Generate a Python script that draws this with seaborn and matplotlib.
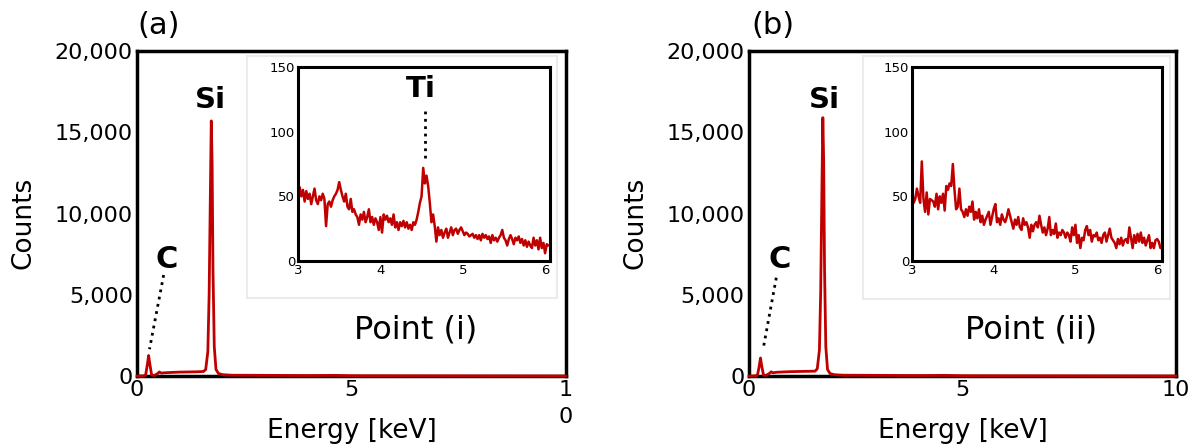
import numpy as np
import pandas as pd
import matplotlib
matplotlib.use('Agg')
import matplotlib.pyplot as plt
import seaborn as sns

# main EDS spectra (energy in keV, counts)
main_energy = [0.0, 0.15, 0.2, 0.24, 0.27, 0.3, 0.34, 0.4, 0.48, 0.52, 0.56, 0.65, 0.8, 1.0,
               1.2, 1.4, 1.55, 1.6, 1.65, 1.68, 1.71, 1.73, 1.75, 1.77, 1.8, 1.84, 1.9, 2.0,
               2.2, 3.0, 4.0, 4.6, 5.0, 6.0, 8.0, 10.0]
counts_a = [0, 10, 60, 700, 1260, 700, 60, 30, 150, 250, 180, 200, 220, 240,
            250, 260, 280, 400, 1500, 5000, 11500, 15700, 13000, 6500, 1800, 400, 150, 80,
            50, 40, 30, 40, 20, 15, 10, 5]
counts_b = [0, 10, 60, 600, 1110, 600, 60, 40, 160, 260, 200, 230, 250, 270,
            280, 290, 300, 450, 1600, 5200, 11800, 15900, 13200, 6600, 1800, 400, 150, 80,
            50, 40, 30, 40, 20, 15, 10, 5]

# zoomed region 3-6 keV, 0.02 keV channels
inset_energy = np.round(np.arange(3.0, 6.05, 0.02), 2)
inset_a = [48, 57, 50, 55, 46, 54, 48, 52, 44, 50,
           56, 47, 44, 50, 47, 52, 48, 27, 44, 46,
           42, 47, 50, 52, 55, 61, 55, 50, 46, 52,
           42, 40, 48, 38, 40, 36, 34, 28, 36, 32,
           38, 30, 34, 40, 30, 34, 28, 33, 30, 24,
           34, 22, 36, 32, 35, 30, 33, 28, 36, 26,
           30, 24, 30, 27, 31, 26, 30, 25, 28, 24,
           30, 28, 32, 38, 45, 50, 72, 60, 66, 58,
           45, 30, 36, 27, 15, 26, 20, 24, 18, 22,
           25, 18, 22, 26, 20, 24, 25, 21, 24, 26,
           23, 20, 22, 21, 19, 20, 21, 18, 20, 17,
           20, 16, 21, 18, 20, 17, 19, 14, 20, 16,
           18, 15, 18, 20, 24, 18, 16, 12, 17, 20,
           17, 13, 18, 16, 19, 14, 17, 12, 16, 11,
           15, 12, 10, 18, 12, 16, 9, 18, 10, 14,
           6, 13, 12]
inset_b = [55, 45, 48, 56, 50, 45, 77, 48, 38, 53,
           36, 48, 47, 46, 42, 52, 40, 50, 45, 52,
           39, 58, 55, 60, 58, 75, 55, 40, 42, 56,
           40, 38, 34, 40, 35, 42, 38, 46, 32, 38,
           33, 40, 30, 35, 28, 32, 35, 38, 28, 34,
           40, 44, 30, 33, 28, 36, 32, 30, 34, 40,
           35, 30, 25, 32, 28, 34, 26, 24, 33, 28,
           30, 26, 18, 28, 23, 28, 30, 26, 35, 28,
           22, 26, 20, 25, 34, 20, 24, 21, 29, 18,
           22, 20, 24, 22, 18, 22, 20, 15, 26, 20,
           28, 14, 20, 10, 18, 16, 24, 27, 20, 24,
           15, 20, 19, 22, 16, 18, 14, 20, 22, 15,
           20, 25, 18, 16, 14, 10, 17, 13, 18, 12,
           16, 17, 14, 26, 18, 10, 20, 14, 21, 15,
           22, 14, 18, 12, 16, 20, 10, 14, 10, 16,
           17, 15, 10]

sns.set_style('white')
plt.rcParams['font.family'] = ['DejaVu Sans']
plt.rcParams['text.color'] = 'black'
plt.rcParams['axes.labelcolor'] = 'black'
plt.rcParams['xtick.color'] = 'black'
plt.rcParams['ytick.color'] = 'black'

red = '#c00000'
fig = plt.figure(figsize=(11.97, 4.48), dpi=100)

panels = [
    dict(main=[0.1145, 0.1607, 0.3584, 0.7254], box=[0.2064, 0.3348, 0.259, 0.540],
         inset=[0.249, 0.4174, 0.2105, 0.433], counts=counts_a, zoom=inset_a,
         letter='(a)', letter_x=0.1324, point='Point (i)', point_x=0.3475,
         xticklabels=['0', '5', '1\n0'], si_x=1.71, c_x=0.69, c_line=([0.62, 0.29], [6215, 1650]),
         ti=True),
    dict(main=[0.6257, 0.1607, 0.3567, 0.7254], box=[0.721, 0.3326, 0.2565, 0.5424],
         inset=[0.7619, 0.4174, 0.2089, 0.433], counts=counts_b, zoom=inset_b,
         letter='(b)', letter_x=0.6458, point='Point (ii)', point_x=0.8613,
         xticklabels=['0', '5', '10'], si_x=1.77, c_x=0.73, c_line=([0.64, 0.33], [6050, 1630]),
         ti=False),
]

for p in panels:
    ax = fig.add_axes(p['main'])
    df = pd.DataFrame({'Energy': main_energy, 'Counts': p['counts']})
    sns.lineplot(data=df, x='Energy', y='Counts', ax=ax, color=red, linewidth=2,
                 estimator=None, sort=False, zorder=3, clip_on=False)
    ax.set_xlim(0, 10)
    ax.set_ylim(0, 20000)
    ax.set_xticks([0, 5, 10])
    ax.set_xticklabels(p['xticklabels'])
    for lbl in ax.get_xticklabels():
        lbl.set_linespacing(1.45)
    ax.set_yticks([0, 5000, 10000, 15000, 20000])
    ax.set_yticklabels(['0', '5,000', '10,000', '15,000', '20,000'])
    ax.tick_params(length=0, labelsize=16, pad=3)
    for s in ax.spines.values():
        s.set_linewidth(2.5)
        s.set_color('black')
    ax.set_xlabel('Energy [keV]', fontsize=19)
    ax.set_ylabel('Counts', fontsize=19)
    ax.xaxis.set_label_coords(0.5, -0.13)
    ax.yaxis.set_label_coords(-0.235, 0.47)
    ax.text(p['si_x'], 17000, 'Si', fontsize=21, fontweight='bold', ha='center', va='center')
    ax.text(p['c_x'], 7200, 'C', fontsize=22, fontweight='bold', ha='center', va='center')
    ax.plot(p['c_line'][0], p['c_line'][1], color='black', linestyle=':', linewidth=2)

    # light frame behind the inset
    box = fig.add_axes(p['box'], zorder=2)
    box.set_xticks([])
    box.set_yticks([])
    box.set_facecolor('white')
    for s in box.spines.values():
        s.set_color('#ebebeb')
        s.set_linewidth(1.5)

    ins = fig.add_axes(p['inset'], zorder=3)
    di = pd.DataFrame({'Energy': inset_energy, 'Counts': p['zoom']})
    sns.lineplot(data=di, x='Energy', y='Counts', ax=ins, color=red, linewidth=1.8,
                 estimator=None, sort=False)
    ins.set_xlim(3, 6.06)
    ins.set_ylim(0, 150)
    ins.set_xticks([3, 4, 5, 6])
    ins.set_yticks([0, 50, 100, 150])
    ins.set_xlabel('')
    ins.set_ylabel('')
    ins.tick_params(length=0, labelsize=9.5, pad=2)
    for s in ins.spines.values():
        s.set_linewidth(2.2)
        s.set_color('black')
    if p['ti']:
        ins.plot([4.54, 4.54], [80, 116], color='black', linestyle=':', linewidth=2)
        ins.text(4.49, 133, 'Ti', fontsize=21, fontweight='bold', ha='center', va='center')

    fig.text(p['letter_x'], 0.944, p['letter'], fontsize=22, ha='center', va='center')
    fig.text(p['point_x'], 0.2634, p['point'], fontsize=23, ha='center', va='center', zorder=5)

fig.savefig('out.png', dpi=100)
